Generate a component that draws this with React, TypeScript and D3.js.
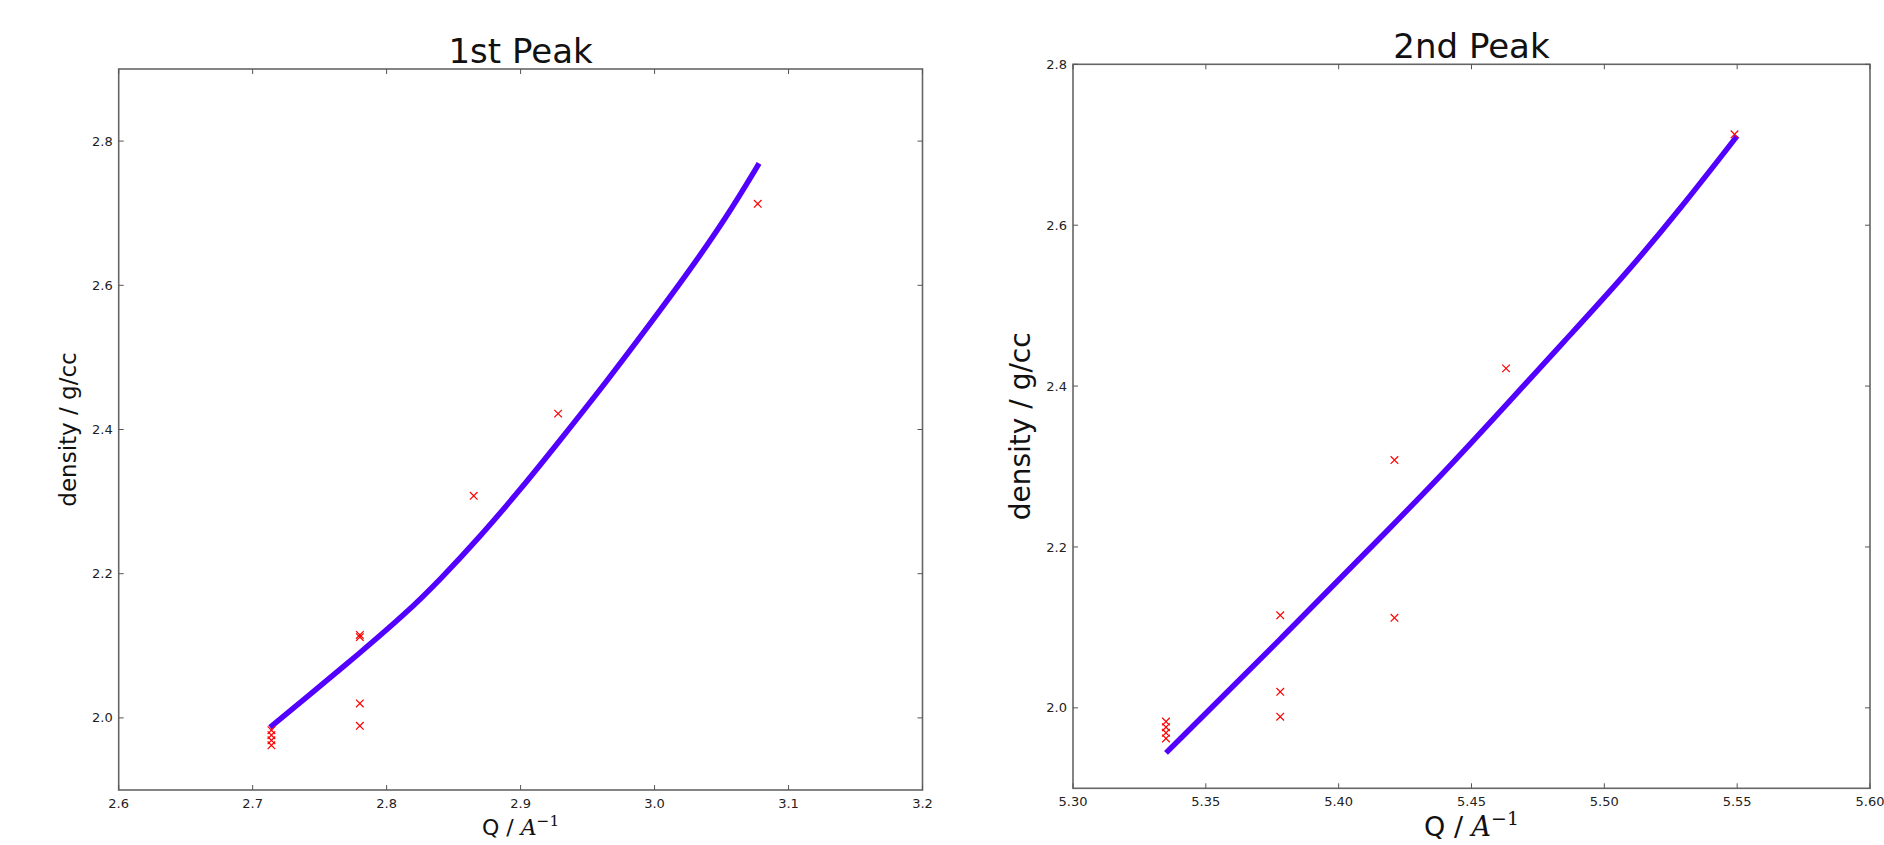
import React from "react";
import * as d3 from "d3";

// measured points (density in g/cc against peak position)
const density = [1.962, 1.969, 1.976, 1.983, 1.989, 2.02, 2.112, 2.115, 2.308, 2.422, 2.713];
const q1 = [2.714, 2.714, 2.714, 2.714, 2.78, 2.78, 2.78, 2.78, 2.865, 2.928, 3.077];
const q2 = [5.335, 5.335, 5.335, 5.335, 5.378, 5.378, 5.421, 5.378, 5.421, 5.463, 5.549];

// fitted curves
const fit1Q = [2.713, 2.74, 2.78, 2.815, 2.84, 2.87, 2.9, 2.929, 2.964, 2.994, 3.024, 3.054, 3.078];
const fit1D = [1.987, 2.028, 2.09, 2.146, 2.192, 2.252, 2.317, 2.384, 2.466, 2.54, 2.615, 2.695, 2.769];
const fit2Q = [5.335, 5.378, 5.421, 5.442, 5.464, 5.485, 5.507, 5.529, 5.55];
const fit2D = [1.944, 2.085, 2.229, 2.301, 2.38, 2.456, 2.535, 2.622, 2.711];

const xTicks1 = [2.6, 2.7, 2.8, 2.9, 3.0, 3.1, 3.2];
const xTicks2 = [5.3, 5.35, 5.4, 5.45, 5.5, 5.55, 5.6];
const yTicks = [2.0, 2.2, 2.4, 2.6, 2.8];

const W = 1884;
const H = 845;
const sans = "'DejaVu Sans', sans-serif";

type PanelProps = {
  box: { left: number; top: number; right: number; bottom: number };
  xDomain: [number, number];
  yDomain: [number, number];
  xTicks: number[];
  xDigits: number;
  xs: number[];
  fitQ: number[];
  fitD: number[];
  title: string;
  titleY: number;
  yLabelX: number;
  yLabelSize: number;
  xLabelY: number;
  xLabelSize: number;
};

const Panel = (p: PanelProps) => {
  const { box } = p;
  const x = d3.scaleLinear().domain(p.xDomain).range([box.left, box.right]);
  const y = d3.scaleLinear().domain(p.yDomain).range([box.bottom, box.top]);
  const line = d3
    .line<number>()
    .x((d) => x(d))
    .y((d, i) => y(p.fitD[i]))
    .curve(d3.curveBasis);
  const tl = 5;
  const cx = (box.left + box.right) / 2;
  const cy = (box.top + box.bottom) / 2;
  const m = 3.8;

  return (
    <g>
      <rect
        x={box.left}
        y={box.top}
        width={box.right - box.left}
        height={box.bottom - box.top}
        fill="white"
        stroke="#666"
        strokeWidth={1.6}
      />
      {p.xTicks.map((t) => (
        <g key={"x" + t}>
          <line x1={x(t)} x2={x(t)} y1={box.bottom} y2={box.bottom - tl} stroke="#555" />
          <line x1={x(t)} x2={x(t)} y1={box.top} y2={box.top + tl} stroke="#555" />
          <text
            x={x(t)}
            y={box.bottom + 18}
            textAnchor="middle"
            fontSize={13}
            fontFamily={sans}
            fill="#222"
          >
            {t.toFixed(p.xDigits)}
          </text>
        </g>
      ))}
      {yTicks.map((t) => (
        <g key={"y" + t}>
          <line x1={box.left} x2={box.left + tl} y1={y(t)} y2={y(t)} stroke="#555" />
          <line x1={box.right} x2={box.right - tl} y1={y(t)} y2={y(t)} stroke="#555" />
          <text
            x={box.left - 6}
            y={y(t)}
            dy="0.35em"
            textAnchor="end"
            fontSize={13}
            fontFamily={sans}
            fill="#222"
          >
            {t.toFixed(1)}
          </text>
        </g>
      ))}
      <path d={line(p.fitQ) || ""} fill="none" stroke="#5200ff" strokeWidth={5.5} strokeLinecap="butt" />
      {p.xs.map((q, i) => (
        <path
          key={"m" + i}
          d={`M${x(q) - m},${y(density[i]) - m}L${x(q) + m},${y(density[i]) + m}M${x(q) - m},${y(density[i]) + m}L${x(q) + m},${y(density[i]) - m}`}
          stroke="#ff0000"
          strokeWidth={1.2}
          fill="none"
        />
      ))}
      <text x={cx} y={p.titleY} textAnchor="middle" fontSize={34} fontFamily={sans} fill="#111">
        {p.title}
      </text>
      <text
        transform={`translate(${p.yLabelX},${cy}) rotate(-90)`}
        textAnchor="middle"
        fontSize={p.yLabelSize}
        fontFamily={sans}
        fill="#111"
      >
        density / g/cc
      </text>
      <text x={cx} y={p.xLabelY} textAnchor="middle" fontSize={p.xLabelSize} fontFamily={sans} fill="#111">
        Q /{" "}
        <tspan fontFamily="'DejaVu Serif', serif" fontStyle="italic">
          A
        </tspan>
        <tspan fontFamily="'DejaVu Serif', serif" fontSize={p.xLabelSize * 0.7} dy={-p.xLabelSize * 0.42}>
          {"\u22121"}
        </tspan>
      </text>
    </g>
  );
};

const App = () => {
  return (
    <svg
      width={W}
      height={H}
      style={{ position: "absolute", left: 0, top: 0, background: "white" }}
    >
      <Panel
        box={{ left: 118.7, top: 69, right: 922.5, bottom: 790 }}
        xDomain={[2.6, 3.2]}
        yDomain={[1.9, 2.9]}
        xTicks={xTicks1}
        xDigits={1}
        xs={q1}
        fitQ={fit1Q}
        fitD={fit1D}
        title="1st Peak"
        titleY={63}
        yLabelX={76}
        yLabelSize={23}
        xLabelY={835}
        xLabelSize={22}
      />
      <Panel
        box={{ left: 1073, top: 64.3, right: 1870, bottom: 788.3 }}
        xDomain={[5.3, 5.6]}
        yDomain={[1.9, 2.8]}
        xTicks={xTicks2}
        xDigits={2}
        xs={q2}
        fitQ={fit2Q}
        fitD={fit2D}
        title="2nd Peak"
        titleY={58}
        yLabelX={1030}
        yLabelSize={28}
        xLabelY={836}
        xLabelSize={27}
      />
    </svg>
  );
};

export default App;
